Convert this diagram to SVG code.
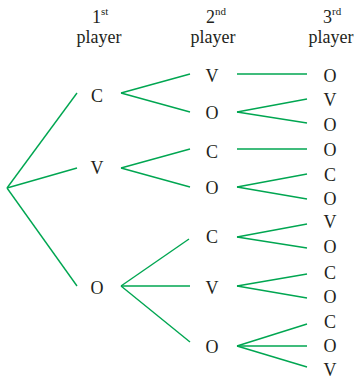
<svg xmlns="http://www.w3.org/2000/svg" width="360" height="380" viewBox="0 0 360 380">
<style>
text{font-family:"Liberation Serif","Times New Roman",serif;font-size:18px;fill:#231f20;text-anchor:middle}
.sup{font-size:11px;text-anchor:start}
.hd{text-anchor:start}
#connectors line{stroke:#00a651;stroke-width:1.4;fill:none}
</style>
<rect width="360" height="380" fill="#fff"/>
<g id="headers">
<text x="92" y="23" class="hd">1<tspan class="sup" dy="-8">st</tspan></text>
<text x="99" y="43">player</text>
<text x="206" y="23" class="hd">2<tspan class="sup" dy="-8">nd</tspan></text>
<text x="213" y="43">player</text>
<text x="323" y="23" class="hd">3<tspan class="sup" dy="-8">rd</tspan></text>
<text x="331" y="43">player</text>
</g>
<g id="connectors">
<line x1="7" y1="188" x2="77" y2="93"/>
<line x1="7" y1="188" x2="77" y2="168"/>
<line x1="7" y1="188" x2="77" y2="286"/>
<line x1="121" y1="93" x2="190" y2="74"/>
<line x1="121" y1="93" x2="190" y2="112"/>
<line x1="121" y1="168" x2="190" y2="149"/>
<line x1="121" y1="168" x2="190" y2="187"/>
<line x1="121" y1="286" x2="189" y2="239"/>
<line x1="121" y1="286" x2="190" y2="286"/>
<line x1="121" y1="286" x2="190" y2="342"/>
<line x1="237" y1="74" x2="307" y2="74"/>
<line x1="237" y1="112" x2="307" y2="99"/>
<line x1="237" y1="112" x2="307" y2="123"/>
<line x1="237" y1="149" x2="307" y2="149"/>
<line x1="237" y1="187" x2="307" y2="174"/>
<line x1="237" y1="187" x2="307" y2="199"/>
<line x1="237" y1="237" x2="307" y2="224"/>
<line x1="237" y1="237" x2="307" y2="248"/>
<line x1="237" y1="286" x2="307" y2="274"/>
<line x1="237" y1="286" x2="307" y2="298"/>
<line x1="237" y1="346" x2="307" y2="324"/>
<line x1="237" y1="346" x2="307" y2="346"/>
<line x1="237" y1="346" x2="307" y2="367"/>
</g>
<g id="p1-C"><text x="97" y="102">C</text></g>
<g id="p1-V"><text x="97" y="174">V</text></g>
<g id="p1-O"><text x="97" y="294">O</text></g>
<g id="p2-CV"><text x="212" y="82">V</text></g>
<g id="p2-CO"><text x="212" y="119">O</text></g>
<g id="p2-VC"><text x="212" y="158">C</text></g>
<g id="p2-VO"><text x="212" y="194">O</text></g>
<g id="p2-OC"><text x="212" y="243">C</text></g>
<g id="p2-OV"><text x="212" y="294">V</text></g>
<g id="p2-OO"><text x="212" y="353">O</text></g>
<g id="p3-1"><text x="330" y="82">O</text></g>
<g id="p3-2"><text x="330" y="106">V</text></g>
<g id="p3-3"><text x="330" y="131">O</text></g>
<g id="p3-4"><text x="330" y="156">O</text></g>
<g id="p3-5"><text x="330" y="181">C</text></g>
<g id="p3-6"><text x="330" y="205">O</text></g>
<g id="p3-7"><text x="330" y="228">V</text></g>
<g id="p3-8"><text x="330" y="253">O</text></g>
<g id="p3-9"><text x="330" y="279">C</text></g>
<g id="p3-10"><text x="330" y="303">O</text></g>
<g id="p3-11"><text x="330" y="328">C</text></g>
<g id="p3-12"><text x="330" y="352">O</text></g>
<g id="p3-13"><text x="330" y="376">V</text></g>
</svg>
